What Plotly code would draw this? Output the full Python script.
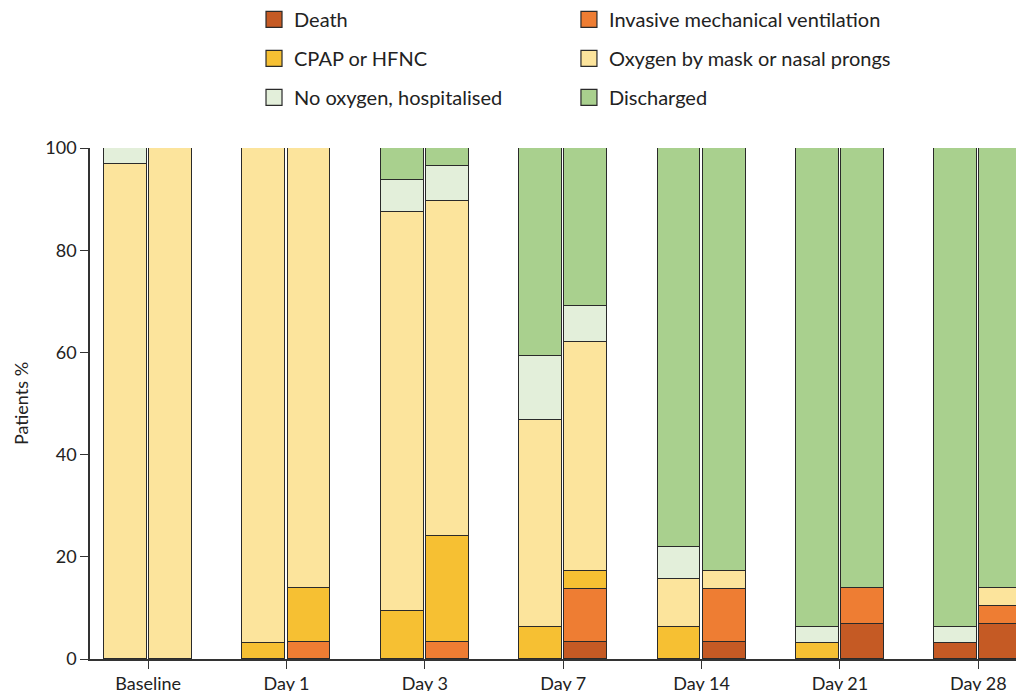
import plotly.graph_objects as go

groups = ["Baseline", "Day 1", "Day 3", "Day 7", "Day 14", "Day 21", "Day 28"]
categories = ["Death", "Invasive mechanical ventilation", "CPAP or HFNC",
              "Oxygen by mask or nasal prongs", "No oxygen, hospitalised", "Discharged"]
colors = ["#C55A24", "#EE7D33", "#F6C033", "#FCE49C", "#E3EFDA", "#A9D08E"]

# left bar of each pair (segment heights, %)
death_a = [0, 0, 0, 0, 0, 0, 3.1]
imv_a = [0, 0, 0, 0, 0, 0, 0]
cpap_a = [0, 3.1, 9.4, 6.2, 6.2, 3.1, 0]
oxy_a = [96.9, 96.9, 78.1, 40.6, 9.4, 0, 0]
noox_a = [3.1, 0, 6.3, 12.5, 6.3, 3.1, 3.1]
dis_a = [0, 0, 6.2, 40.7, 78.1, 93.8, 93.8]

# right bar of each pair (segment heights, %)
death_b = [0, 0, 0, 3.4, 3.4, 6.9, 6.9]
imv_b = [0, 3.4, 3.4, 10.3, 10.3, 6.9, 3.4]
cpap_b = [0, 10.4, 20.7, 3.5, 0, 0, 0]
oxy_b = [100, 86.2, 65.5, 44.9, 3.5, 0, 3.5]
noox_b = [0, 0, 6.9, 6.9, 0, 0, 0]
dis_b = [0, 0, 3.5, 31.0, 82.8, 86.2, 86.2]

series_a = [death_a, imv_a, cpap_a, oxy_a, noox_a, dis_a]
series_b = [death_b, imv_b, cpap_b, oxy_b, noox_b, dis_b]

OFF = 0.163
BW = 0.31
FONT = "Lato"
EDGE = "#2a2a2a"

xa = [i - OFF for i in range(len(groups))]
xb = [i + OFF for i in range(len(groups))]

fig = go.Figure()
for k, name in enumerate(categories):
    ya = [v if v else None for v in series_a[k]]
    yb = [v if v else None for v in series_b[k]]
    fig.add_trace(go.Bar(
        x=xa + xb, y=ya + yb, width=BW, name=name,
        marker=dict(color=colors[k], line=dict(color=EDGE, width=1.5)),
        showlegend=False, hoverinfo="skip"))

# legend entries: two columns
col1 = [0, 2, 4]
for k, name in enumerate(categories):
    fig.add_trace(go.Scatter(
        x=[None], y=[None], mode="markers", name=name,
        legend="legend" if k in col1 else "legend2",
        legendgroup=name,
        marker=dict(symbol="square", size=22, color=colors[k],
                    line=dict(color=EDGE, width=1.2))))

leg_common = dict(orientation="v", font=dict(family=FONT, size=20, color="#222"),
                  tracegroupgap=10, bgcolor="rgba(0,0,0,0)", xanchor="left",
                  yanchor="top", itemsizing="trace", traceorder="grouped")
fig.update_layout(
    barmode="stack",
    width=1024, height=691,
    margin=dict(l=82, r=8, t=140, b=40, autoexpand=False),
    plot_bgcolor="white", paper_bgcolor="white",
    font=dict(family=FONT, size=18, color="#222"),
    bargap=0,
    legend=dict(x=0.1756, y=1.29, **leg_common),
    legend2=dict(x=0.5128, y=1.29, **leg_common),
    xaxis=dict(range=[-0.42, 6.33], tickvals=list(range(len(groups))), ticktext=groups,
               showgrid=False, zeroline=False, showline=True, linecolor="#333",
               linewidth=1.5, ticks="outside", ticklen=8, tickcolor="#333",
               automargin=False,
               tickfont=dict(family=FONT, size=18, color="#222")),
    yaxis=dict(range=[0, 100], tickvals=[0, 20, 40, 60, 80, 100],
               showgrid=False, zeroline=False, showline=True, linecolor="#333",
               linewidth=1.5, ticks="outside", ticklen=8, tickcolor="#333",
               automargin=False,
               tickfont=dict(family=FONT, size=18, color="#222"),
               title=dict(text="Patients %", font=dict(family=FONT, size=18, color="#222"),
                          standoff=12)),
)

fig.write_html("out.html")
